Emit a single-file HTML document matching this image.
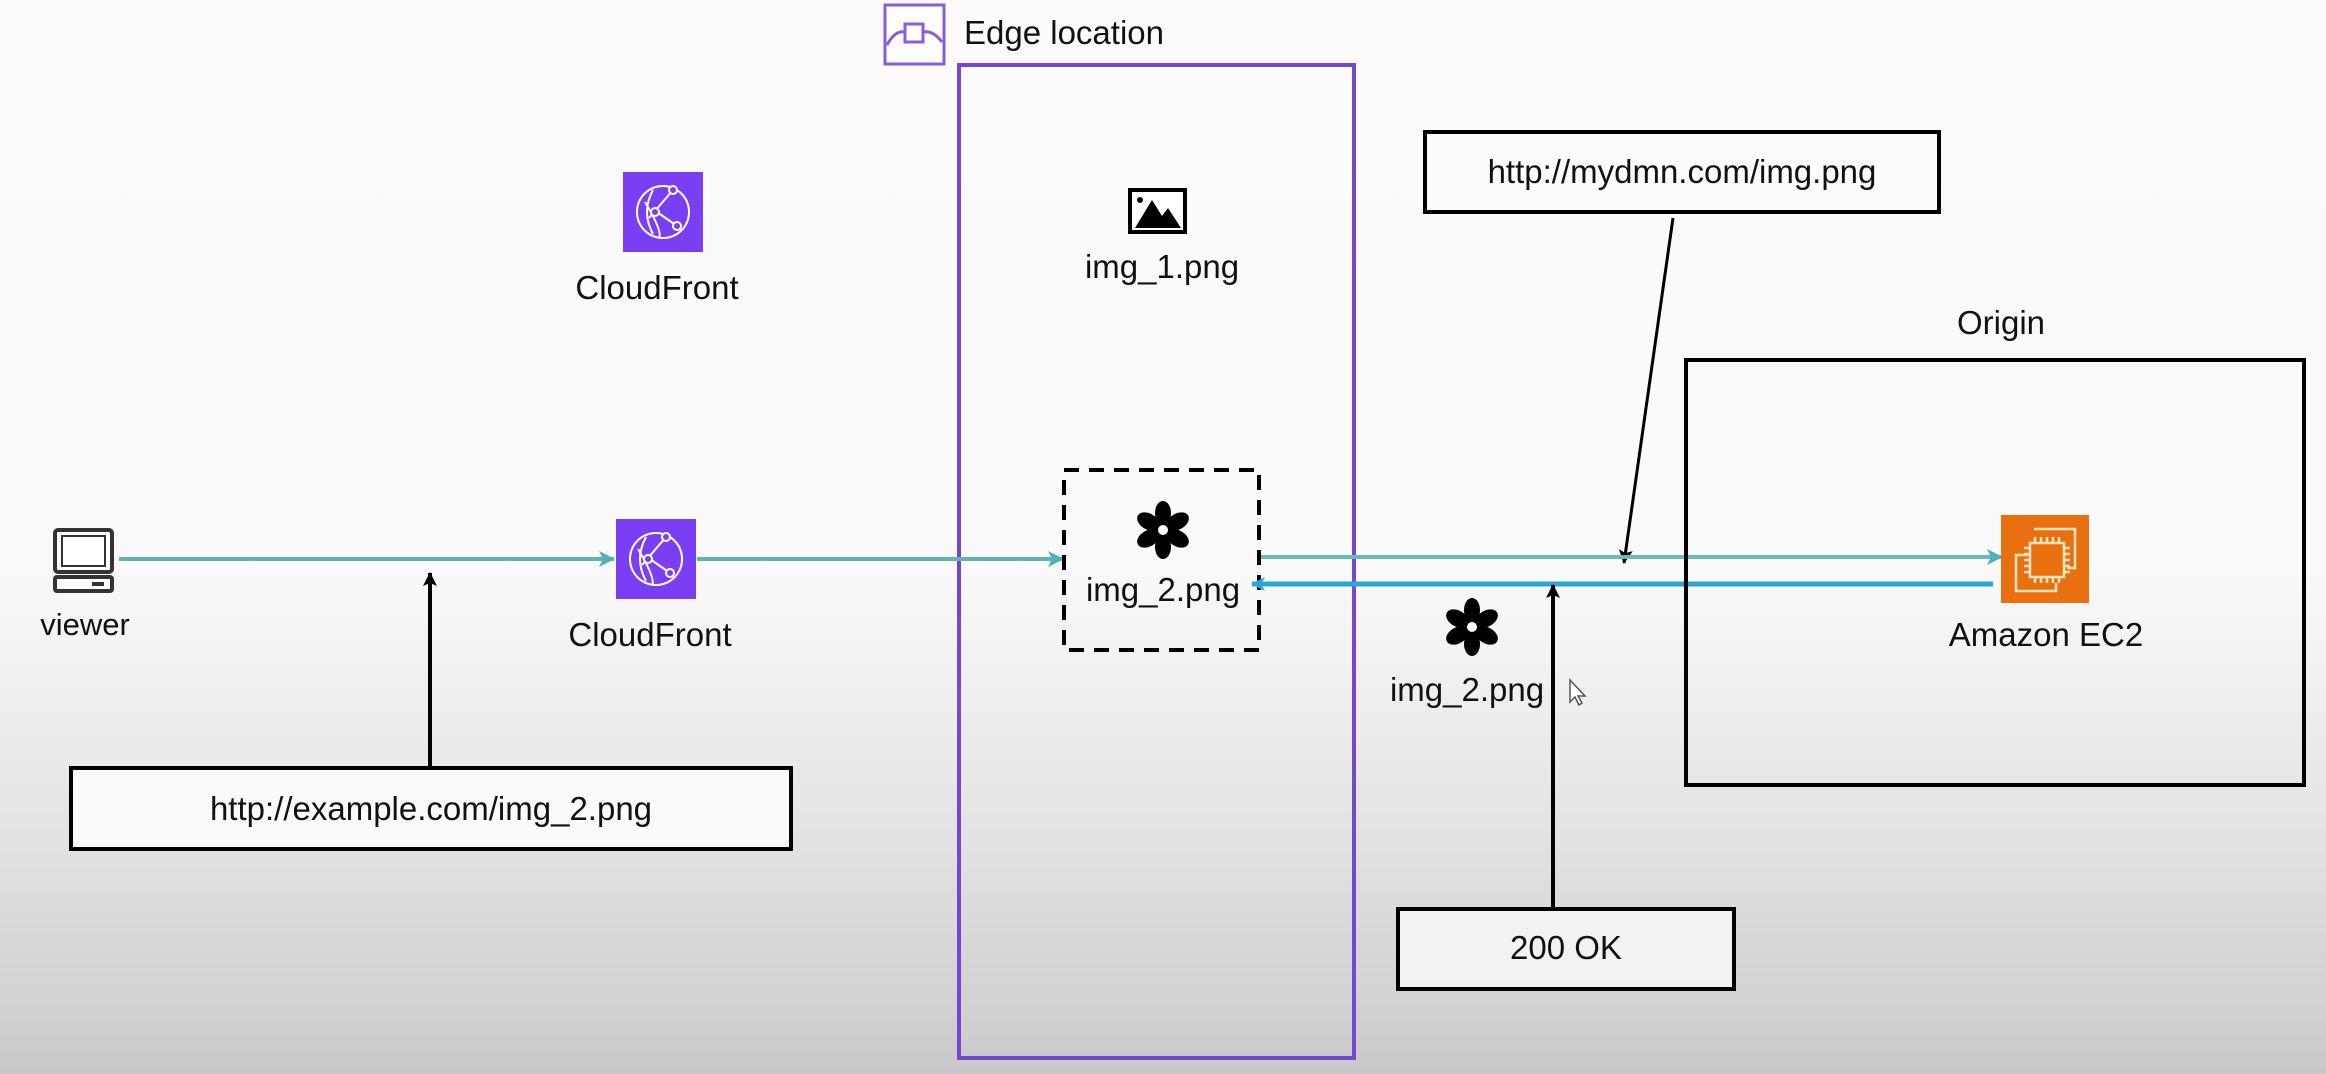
<!DOCTYPE html>
<html><head><meta charset="utf-8"><style>
html,body{margin:0;padding:0}
body{width:2326px;height:1074px;overflow:hidden;background:linear-gradient(180deg,#fbfbfb 0px,#fafafa 560px,#e6e6e6 800px,#d2d2d2 1000px,#c8c8c8 1074px);font-family:"Liberation Sans",sans-serif}
svg{position:absolute;left:0;top:0}
text{font-family:"Liberation Sans",sans-serif;font-size:33px;fill:#111}
</style></head><body>
<svg width="2326" height="1074" viewBox="0 0 2326 1074">
<defs>
<marker id="at" markerWidth="16" markerHeight="16" refX="15" refY="8" orient="auto" markerUnits="userSpaceOnUse"><path d="M0,0 L16,8 L0,16 L4,8 Z" fill="#4fb0b8"/></marker>
<marker id="ab" markerWidth="14" markerHeight="14" refX="13" refY="7" orient="auto" markerUnits="userSpaceOnUse"><path d="M0,0 L14,7 L0,14 L4,7 Z" fill="#2aa6d6"/></marker>
<marker id="ak" markerWidth="14" markerHeight="16" refX="13" refY="8" orient="auto" markerUnits="userSpaceOnUse"><path d="M0,1 L14,8 L0,15 L3,8 Z" fill="#000"/></marker>
<g id="cf"><rect width="80" height="80" fill="#7a3ff2"/><circle cx="40" cy="40" r="26" fill="none" stroke="#fff" stroke-width="2"/><path d="M22,30 Q40,60 36,66 M26,46 L50,18 M34,40 L54,54 M30,18 Q18,40 30,62" fill="none" stroke="#fff" stroke-width="2"/><circle cx="50" cy="18" r="4" fill="#7a3ff2" stroke="#fff" stroke-width="2"/><circle cx="32" cy="40" r="4" fill="#7a3ff2" stroke="#fff" stroke-width="2"/><circle cx="54" cy="54" r="4" fill="#7a3ff2" stroke="#fff" stroke-width="2"/></g>
<g id="fl">
<ellipse cx="0" cy="-17" rx="8" ry="12"/>
<ellipse cx="0" cy="-17" rx="8" ry="12" transform="rotate(60)"/>
<ellipse cx="0" cy="-17" rx="8" ry="12" transform="rotate(120)"/>
<ellipse cx="0" cy="-17" rx="8" ry="12" transform="rotate(180)"/>
<ellipse cx="0" cy="-17" rx="8" ry="12" transform="rotate(240)"/>
<ellipse cx="0" cy="-17" rx="8" ry="12" transform="rotate(300)"/>
<circle cx="0" cy="0" r="10"/><circle cx="0" cy="0" r="5" fill="#fff"/></g>
</defs>

<rect x="885" y="5" width="59" height="59" fill="#fff" stroke="#8a5cd8" stroke-width="3"/>
<rect x="905" y="24" width="18" height="18" fill="none" stroke="#8a5cd8" stroke-width="3"/>
<path d="M887,45 Q895,30 905,32 M923,32 Q933,30 942,42" fill="none" stroke="#8a5cd8" stroke-width="3"/>
<text x="964" y="44">Edge location</text>
<rect x="959" y="65" width="395" height="993" fill="none" stroke="#7348d0" stroke-width="4"/>

<use href="#cf" x="623" y="172"/>
<text x="657" y="299" text-anchor="middle">CloudFront</text>

<rect x="55" y="530" width="57" height="42" rx="3" fill="#fff" stroke="#333" stroke-width="4"/>
<rect x="62" y="536" width="43" height="30" fill="#fff" stroke="#333" stroke-width="2"/>
<rect x="55" y="577" width="57" height="14" rx="2" fill="#fff" stroke="#333" stroke-width="4"/>
<rect x="92" y="582" width="12" height="4" fill="#333"/>
<text x="85" y="635" text-anchor="middle" style="font-size:31px">viewer</text>

<use href="#cf" x="616" y="519"/>
<text x="650" y="646" text-anchor="middle">CloudFront</text>

<line x1="119" y1="559" x2="614" y2="559" stroke="#5fb3b9" stroke-width="4" marker-end="url(#at)"/>
<line x1="697" y1="559" x2="1063" y2="559" stroke="#5fb3b9" stroke-width="4" marker-end="url(#at)"/>

<line x1="430" y1="767" x2="430" y2="573" stroke="#000" stroke-width="4" marker-end="url(#ak)"/>
<rect x="71" y="768" width="720" height="81" fill="#fafafa" stroke="#000" stroke-width="4"/>
<text x="431" y="820" text-anchor="middle">http://example.com/img_2.png</text>

<rect x="1130" y="190" width="55" height="42" fill="#fff" stroke="#000" stroke-width="4"/>
<path d="M1135,228 L1152,200 L1162,216 L1168,208 L1181,228 Z" fill="#000"/>
<circle cx="1140" cy="200" r="3" fill="#000"/>
<text x="1162" y="278" text-anchor="middle">img_1.png</text>

<rect x="1064" y="470" width="195" height="180" fill="none" stroke="#000" stroke-width="4" stroke-dasharray="15,10"/>
<use href="#fl" x="1163" y="530"/>
<text x="1163" y="601" text-anchor="middle">img_2.png</text>

<rect x="1425" y="132" width="514" height="80" fill="#fcfcfc" stroke="#000" stroke-width="4"/>
<text x="1682" y="183" text-anchor="middle">http://mydmn.com/img.png</text>
<line x1="1673" y1="218" x2="1624" y2="563" stroke="#000" stroke-width="3" marker-end="url(#ak)"/>

<line x1="1261" y1="557" x2="2002" y2="557" stroke="#6ab9be" stroke-width="4" marker-end="url(#at)"/>
<line x1="1993" y1="584" x2="1252" y2="584" stroke="#2aa6d6" stroke-width="5" marker-end="url(#ab)"/>

<use href="#fl" x="1472" y="627"/>
<text x="1467" y="701" text-anchor="middle">img_2.png</text>
<path d="M1570,680 L1570,702 L1575,697 L1579,705 L1582,703 L1578,696 L1585,696 Z" fill="#fff" stroke="#555" stroke-width="1.5"/>

<line x1="1553" y1="908" x2="1553" y2="585" stroke="#000" stroke-width="4" marker-end="url(#ak)"/>
<rect x="1398" y="909" width="336" height="80" fill="#f2f2f2" stroke="#000" stroke-width="4"/>
<text x="1566" y="959" text-anchor="middle">200 OK</text>

<text x="2001" y="334" text-anchor="middle">Origin</text>
<rect x="1686" y="360" width="618" height="425" fill="none" stroke="#000" stroke-width="4"/>
<rect x="2001" y="515" width="88" height="88" fill="#e8700f"/>
<g fill="none" stroke="#fde2c4" stroke-width="2.5">
<path d="M2034,529 L2075,529 L2075,568 L2067,568"/>
<path d="M2028,555 L2016,555 L2016,591 L2056,591 L2056,583"/>
<rect x="2030" y="543" width="34" height="34"/>
<path d="M2035,537v6 M2041,537v6 M2047,537v6 M2053,537v6 M2059,537v6 M2035,577v6 M2041,577v6 M2047,577v6 M2053,577v6 M2059,577v6 M2024,548h6 M2024,554h6 M2024,560h6 M2024,566h6 M2024,572h6 M2064,548h6 M2064,554h6 M2064,560h6 M2064,566h6 M2064,572h6"/>
</g>
<text x="2046" y="646" text-anchor="middle">Amazon EC2</text>
</svg>
</body></html>
